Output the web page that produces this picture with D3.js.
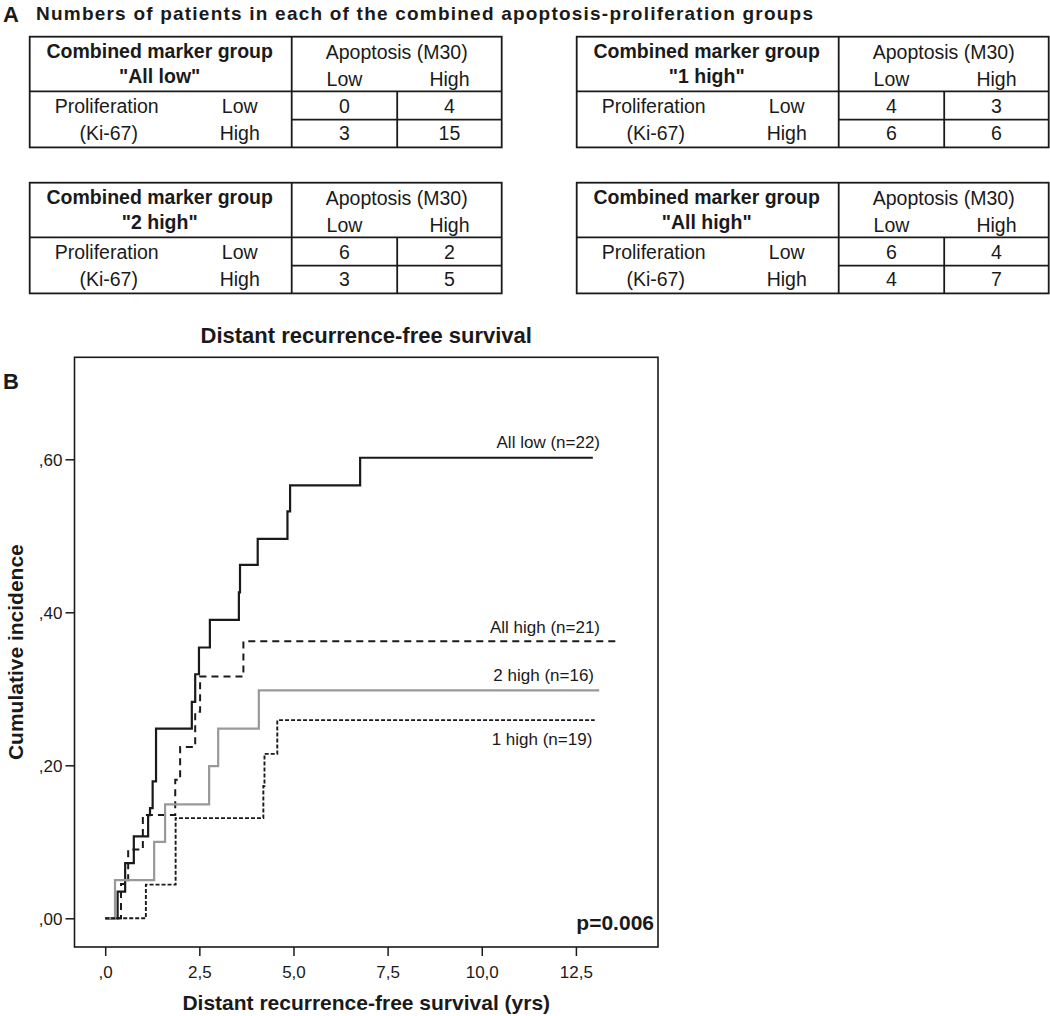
<!DOCTYPE html>
<html>
<head>
<meta charset="utf-8">
<script src="https://cdn.jsdelivr.net/npm/d3@7"></script>
<style>
  html, body { margin: 0; padding: 0; background: #fff; }
  svg { display: block; font-family: "Liberation Sans", Arial, sans-serif; }
</style>
</head>
<body>
<script>
// ---------------- DATA ----------------
const panelATitle = "Numbers of patients in each of the combined apoptosis-proliferation groups";
const tableGroupLabels = ['"All low"', '"1 high"', '"2 high"', '"All high"'];
const apoptosisLevels = ["Low", "High"];
const proliferationLevels = ["Low", "High"];
// counts[group][proliferation][apoptosis]
const tableCounts = [
  [[0, 4], [3, 15]],
  [[4, 3], [6, 6]],
  [[6, 2], [3, 5]],
  [[6, 4], [4, 7]]
];

const chartTitle = "Distant recurrence-free survival";
const xTitle = "Distant recurrence-free survival (yrs)";
const yTitle = "Cumulative incidence";
const xTickValues = [0, 2.5, 5, 7.5, 10, 12.5];
const xTickLabels = [",0", "2,5", "5,0", "7,5", "10,0", "12,5"];
const yTickValues = [0, 0.2, 0.4, 0.6];
const yTickLabels = [",00", ",20", ",40", ",60"];
const pValueText = "p=0.006";

const seriesNames = ["All low (n=22)", "All high (n=21)", "2 high (n=16)", "1 high (n=19)"];
const allLowTimes  = [0, 0.33, 0.53, 0.76, 1.14, 1.19, 1.26, 1.35, 2.30, 2.39, 2.49, 2.78, 3.55, 3.58, 4.05, 4.84, 4.91, 6.77, 12.95];
const allLowValues = [0, 0.035, 0.072, 0.107, 0.135, 0.144, 0.179, 0.248, 0.283, 0.319, 0.354, 0.390, 0.426, 0.462, 0.496, 0.532, 0.566, 0.602, 0.602];
const allHighTimes  = [0, 0.42, 0.61, 1.00, 1.86, 1.99, 2.39, 2.52, 3.67, 13.62];
const allHighValues = [0, 0.045, 0.090, 0.135, 0.181, 0.224, 0.270, 0.316, 0.362, 0.362];
const twoHighTimes  = [0, 0.26, 1.30, 1.59, 2.76, 3.00, 4.08, 13.12];
const twoHighValues = [0, 0.050, 0.100, 0.149, 0.199, 0.248, 0.298, 0.298];
const oneHighTimes  = [0, 1.08, 1.87, 4.20, 4.23, 4.57, 13.00];
const oneHighValues = [0, 0.044, 0.131, 0.173, 0.215, 0.259, 0.259];

// ---------------- DRAW ----------------
const W = 1050, H = 1016;
const svg = d3.select("body").append("svg").attr("width", W).attr("height", H);
const ink = "#1a1a1a";

// Panel A title
svg.append("text").attr("x", 3).attr("y", 22).attr("font-size", 22).attr("font-weight", "bold").attr("fill", ink).text("A");
svg.append("text").attr("x", 36).attr("y", 20).attr("font-size", 19).attr("font-weight", "bold").attr("fill", ink)
  .attr("textLength", 777).attr("lengthAdjust", "spacing").text(panelATitle);

// Tables
const tablePos = [[29.7, 36.7], [576.7, 36.7], [29.7, 182.7], [576.7, 182.7]];
const tW = 472, colDiv = 262, dataDiv = 367.5, hdrB = 54.7, midR = 83, botR = 110.7;
tableGroupLabels.forEach((lab, i) => {
  const [L, T] = tablePos[i];
  const g = svg.append("g").attr("transform", `translate(${L},${T})`);
  const line = (x1, y1, x2, y2) => g.append("line").attr("x1", x1).attr("y1", y1).attr("x2", x2).attr("y2", y2)
    .attr("stroke", ink).attr("stroke-width", 1.8);
  g.append("rect").attr("x", 0).attr("y", 0).attr("width", tW).attr("height", botR)
    .attr("fill", "none").attr("stroke", ink).attr("stroke-width", 1.8);
  line(colDiv, 0, colDiv, botR);
  line(0, hdrB, tW, hdrB);
  line(dataDiv, hdrB, dataDiv, botR);
  line(colDiv, midR, tW, midR);
  const t = (x, y, s, bold) => g.append("text").attr("x", x).attr("y", y).attr("text-anchor", "middle")
    .attr("font-size", 19.5).attr("font-weight", bold ? "bold" : "normal").attr("fill", ink).text(s);
  t(130, 21.6, "Combined marker group", true);
  t(130, 46, lab, true);
  t((colDiv + tW) / 2, 22, "Apoptosis (M30)", false);
  const colC = [(colDiv + dataDiv) / 2, (dataDiv + tW) / 2];
  apoptosisLevels.forEach((a, j) => t(colC[j], 49, a, false));
  t(77, 76.5, "Proliferation", false);
  t(79, 103, "(Ki-67)", false);
  const rowY = [76.5, 103];
  proliferationLevels.forEach((p, r) => {
    t(210, rowY[r], p, false);
    tableCounts[i][r].forEach((v, j) => t(colC[j], rowY[r], v, false));
  });
});

// Panel B
svg.append("text").attr("x", 3).attr("y", 389).attr("font-size", 22).attr("font-weight", "bold").attr("fill", ink).text("B");

const frame = { left: 74.5, top: 357.3, right: 658, bottom: 947 };
const x = d3.scaleLinear().domain([0, 12.5]).range([105.2, 575.9]);
const y = d3.scaleLinear().domain([0, 0.6]).range([918.3, 459.3]);

svg.append("text").attr("x", (frame.left + frame.right) / 2).attr("y", 343).attr("text-anchor", "middle")
  .attr("font-size", 22).attr("font-weight", "bold").attr("fill", ink).text(chartTitle);

// axes
const xAxis = svg.append("g").attr("transform", `translate(0,${frame.bottom})`)
  .call(d3.axisBottom(x).tickValues(xTickValues).tickSize(9).tickSizeOuter(0)
    .tickFormat((d, i) => xTickLabels[i]));
xAxis.select(".domain").remove();
xAxis.selectAll("line").attr("stroke", ink).attr("stroke-width", 1.5);
xAxis.selectAll("text").attr("y", 31).attr("dy", 0).attr("font-size", 17).attr("fill", ink).attr("font-family", null);

const yAxis = svg.append("g").attr("transform", `translate(${frame.left},0)`)
  .call(d3.axisLeft(y).tickValues(yTickValues).tickSize(9).tickSizeOuter(0)
    .tickFormat((d, i) => yTickLabels[i]));
yAxis.select(".domain").remove();
yAxis.selectAll("line").attr("stroke", ink).attr("stroke-width", 1.5);
yAxis.selectAll("text").attr("x", -12).attr("dy", "0.35em").attr("font-size", 17).attr("fill", ink).attr("font-family", null);

// frame
svg.append("rect").attr("x", frame.left).attr("y", frame.top)
  .attr("width", frame.right - frame.left).attr("height", frame.bottom - frame.top)
  .attr("fill", "none").attr("stroke", ink).attr("stroke-width", 1.6);

// titles
svg.append("text").attr("x", (frame.left + frame.right) / 2).attr("y", 1010).attr("text-anchor", "middle")
  .attr("font-size", 21).attr("font-weight", "bold").attr("fill", ink).text(xTitle);
svg.append("text").attr("transform", `translate(23,${(frame.top + frame.bottom) / 2}) rotate(-90)`)
  .attr("text-anchor", "middle").attr("font-size", 21).attr("font-weight", "bold").attr("fill", ink).text(yTitle);

// curves
const series = [
  { t: allLowTimes, v: allLowValues, color: "#1a1a1a", dash: null, w: 2.2 },
  { t: allHighTimes, v: allHighValues, color: "#1a1a1a", dash: "7,5", w: 2.0 },
  { t: twoHighTimes, v: twoHighValues, color: "#999999", dash: null, w: 2.2 },
  { t: oneHighTimes, v: oneHighValues, color: "#1a1a1a", dash: "4,2", w: 1.9 }
];
const line = d3.line().x(d => x(d[0])).y(d => y(d[1])).curve(d3.curveStepAfter);
series.forEach(s => {
  const pts = s.t.map((t, i) => [t, s.v[i]]);
  svg.append("path").attr("d", line(pts)).attr("fill", "none").attr("stroke", s.color)
    .attr("stroke-width", s.w).attr("stroke-dasharray", s.dash);
});

// series labels
const labelPos = [[600, 448.3], [600, 632.7], [594, 680.7], [592.3, 745]];
seriesNames.forEach((n, i) => {
  svg.append("text").attr("x", labelPos[i][0]).attr("y", labelPos[i][1]).attr("text-anchor", "end")
    .attr("font-size", 17).attr("fill", ink).text(n);
});

svg.append("text").attr("x", 654).attr("y", 930).attr("text-anchor", "end")
  .attr("font-size", 21).attr("font-weight", "bold").attr("fill", ink).text(pValueText);
</script>
</body>
</html>
